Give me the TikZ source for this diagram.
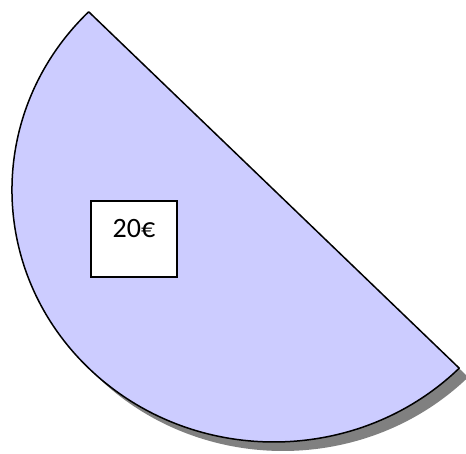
\documentclass[tikz,border=0pt]{standalone}
\usepackage{fontspec}
\setmainfont{Carlito}
\usepackage{tikz}
\definecolor{sliceblue}{HTML}{CCCCFF}
\definecolor{shadowgray}{HTML}{808080}

\begin{document}
\begin{tikzpicture}[
  x=1pt, y=1pt,
  slice/.style={draw=black, line width=1.5pt, fill=sliceblue, line join=round},
  sliceshadow/.style={fill=shadowgray},
  pricebox/.style={rectangle, draw=black, line width=1.3pt, fill=white, minimum width=86pt, minimum height=76pt},
  pricetext/.style={font=\fontsize{28}{32}\selectfont, inner sep=0pt},
]
\useasboundingbox (0,0) rectangle (466,454);
% shadow of the half slice
\fill[sliceshadow] (88.7+9,442.2-9) arc[start angle=135, end angle=315, x radius=262, y radius=252] -- cycle;
% half slice
\draw[slice] (88.7,442.2) arc[start angle=135, end angle=315, x radius=262, y radius=252] -- cycle;
% label box
\node[pricebox] (price) at (134,215) {};
\node[pricetext] (pricelabel) at ([yshift=10pt]price.center) {20€};
\end{tikzpicture}
\end{document}
